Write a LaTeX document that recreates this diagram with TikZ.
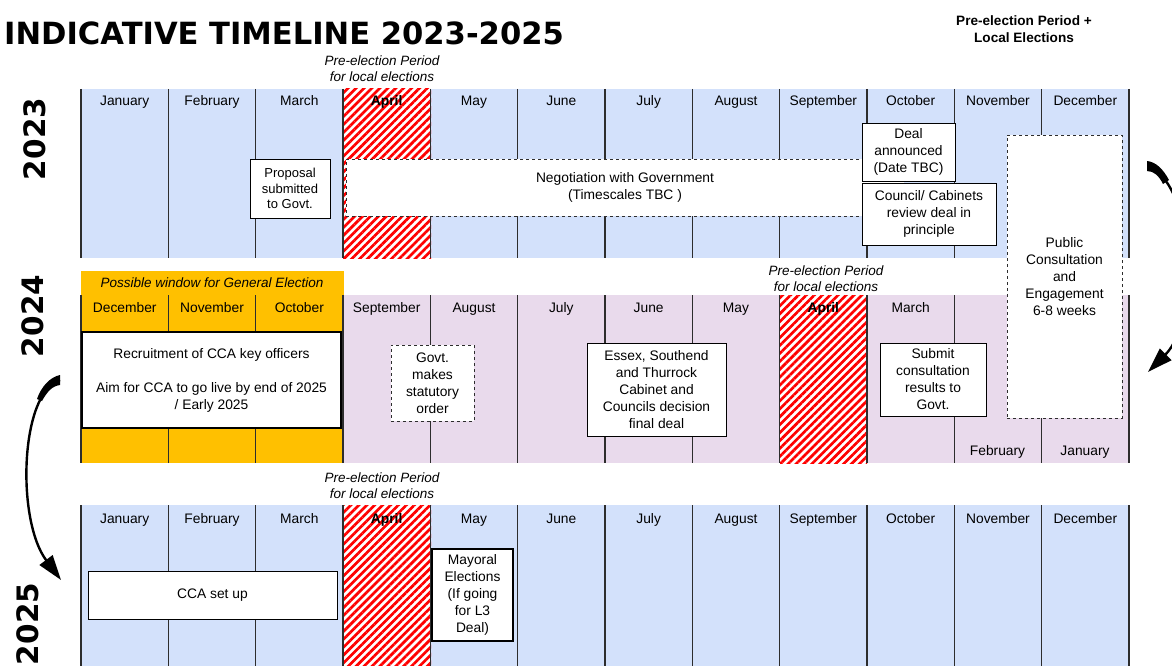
\documentclass[tikz,border=0pt]{standalone}
\usepackage{fontspec}
\setmainfont{Liberation Sans}
\newfontfamily\heavyfont{DejaVu Sans}
\usetikzlibrary{patterns.meta,arrows.meta}
\definecolor{monthblue}{RGB}{211,225,251}
\definecolor{monthpurple}{RGB}{233,218,236}
\definecolor{windoworange}{RGB}{255,192,0}
\definecolor{hatchred}{RGB}{255,0,0}
\definecolor{linegray}{RGB}{45,45,45}
\tikzset{
  monthline/.style={draw=linegray,line width=1.3pt},
  aprilhatch/.style={preaction={fill=white},pattern={Lines[angle=45,distance=5.6pt,line width=2.7pt]},pattern color=hatchred},
  monthlabel/.style={anchor=base,font=\fontsize{13.8}{16}\selectfont},
  eventbox/.style={draw=black,fill=white,line width=0.9pt,align=center,inner sep=0pt,font=\fontsize{13.8}{17}\selectfont},
  tbcbox/.style={eventbox,draw=linegray,dashed},
  preelection/.style={align=center,font=\fontsize{13.5}{16}\selectfont\itshape},
  yearlabel/.style={rotate=90,font=\heavyfont\bfseries\fontsize{29.5}{30}\selectfont},
}
\begin{document}
\begin{tikzpicture}[x=1pt,y=-1pt]
  \useasboundingbox (0,0) rectangle (1172,666);

  % headings
  \node [anchor=base west,inner sep=0pt,font=\heavyfont\bfseries\fontsize{30.6}{32}\selectfont] (title) at (4,45) {INDICATIVE TIMELINE 2023-2025};
  \node [align=center,font=\fontsize{13.6}{17}\selectfont\bfseries] (legend) at (1024,29.5) {Pre-election Period +\\Local Elections};

  % 2023
  \fill [monthblue] (81,89) rectangle (1129,258);
  \fill [aprilhatch] (343,89) rectangle (431,258);
  \foreach \i in {0,...,12}
    \draw [monthline] ({81+87.33*\i},89) -- ({81+87.33*\i},258);
  \foreach \m [count=\i from 0] in {January,February,March,\textbf{April},May,June,July,August,September,October,November,December}
    \node [monthlabel] (a\i) at ({124.7+87.33*\i},106) {\m};
  \node [preelection] (pre23) at (382,69) {Pre-election Period\\for local elections};
  \node [yearlabel] (y23) at (35,139) {2023};

  % 2024
  \fill [windoworange] (81,271) rectangle (343.7,463);
  \fill [monthpurple] (343.7,295) rectangle (1129,463);
  \fill [aprilhatch] (780,295) rectangle (867,463);
  \foreach \i in {0,...,12}
    \draw [monthline] ({81+87.33*\i},295) -- ({81+87.33*\i},463);
  \foreach \m [count=\i from 0] in {December,November,October,September,August,July,June,May,\textbf{April},March}
    \node [monthlabel] (b\i) at ({124.7+87.33*\i},312) {\m};
  \node [monthlabel] (b10) at (997.5,455) {February};
  \node [monthlabel] (b11) at (1085,455) {January};
  \node [preelection] (window) at (212,283) {Possible window for General Election};
  \node [preelection] (pre24) at (826,279) {Pre-election Period\\for local elections};
  \node [yearlabel] (y24) at (33,316) {2024};

  % 2025
  \fill [monthblue] (81,505) rectangle (1129,670);
  \fill [aprilhatch] (343,505) rectangle (431,670);
  \foreach \i in {0,...,12}
    \draw [monthline] ({81+87.33*\i},505) -- ({81+87.33*\i},670);
  \foreach \m [count=\i from 0] in {January,February,March,\textbf{April},May,June,July,August,September,October,November,December}
    \node [monthlabel] (c\i) at ({124.7+87.33*\i},523) {\m};
  \node [preelection] (pre25) at (382,486) {Pre-election Period\\for local elections};
  \node [yearlabel] (y25) at (28,624) {2025};

  % events
  \node [eventbox,minimum width=80pt,minimum height=59pt,font=\fontsize{13}{15.5}\selectfont] (proposal) at (290,188.5) {Proposal\\submitted\\to Govt.};
  \node [tbcbox,minimum width=558pt,minimum height=57pt] (negotiation) at (625,187.5) {Negotiation with Government\\(Timescales TBC )};
  \node [eventbox,minimum width=93pt,minimum height=58pt] (deal) at (908.5,152) {Deal\\announced\\(Date TBC)};
  \node [eventbox,minimum width=134pt,minimum height=62pt] (review) at (929,214) {Council/ Cabinets\\review deal in\\principle};
  \node [tbcbox,minimum width=115pt,minimum height=283pt] (consultation) at (1064.5,276.5) {Public\\Consultation\\and\\Engagement\\6-8 weeks};
  \node [eventbox,line width=1.5pt,minimum width=259pt,minimum height=96pt] (recruitment) at (211.5,380) {Recruitment of CCA key officers\\[17pt]Aim for CCA to go live by end of 2025\\/ Early 2025};
  \node [tbcbox,minimum width=83pt,minimum height=76pt] (order) at (432.5,383) {Govt.\\makes\\statutory\\order};
  \node [eventbox,minimum width=139pt,minimum height=93pt] (decision) at (656.5,389.5) {Essex, Southend\\and Thurrock\\Cabinet and\\Councils decision\\final deal};
  \node [eventbox,minimum width=106pt,minimum height=73pt] (submit) at (933,379.5) {Submit\\consultation\\results to\\Govt.};
  \node [eventbox,minimum width=249pt,minimum height=48pt] (setup) at (212.5,595) {CCA set up};
  \node [eventbox,line width=1.5pt,minimum width=81pt,minimum height=92pt] (mayoral) at (472.5,595) {Mayoral\\Elections\\(If going\\for L3\\Deal)};

  % year arrows
  \coordinate (l0) at (60,380);
  \coordinate (l1) at (61,580);
  \coordinate (r0) at (1148,166);
  \coordinate (r1) at (1148,372);
  \draw [line width=2.4pt,-{Triangle[length=25pt,width=16pt]}] (l0) .. controls (20,392) and (16,520) .. (l1);
  \fill (60,375) .. controls (50,377) and (41,387) .. (37,399) -- (42,401) .. controls (47,392) and (52,386) .. (60,385) -- cycle;
  \draw [line width=2.4pt,-{Triangle[length=25pt,width=16pt]}] (r0) .. controls (1195,185) and (1200,320) .. (r1);
  \fill (1147,161) .. controls (1156,162) and (1163,169) .. (1169,180) -- (1163,184) .. controls (1159,176) and (1154,171) .. (1147,171) -- cycle;
\end{tikzpicture}
\end{document}
